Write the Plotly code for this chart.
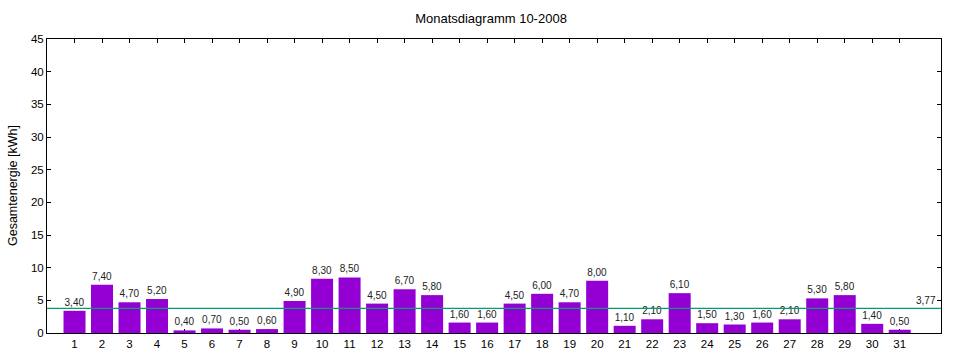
import plotly.graph_objects as go

days = list(range(1, 32))
energy = [3.40, 7.40, 4.70, 5.20, 0.40, 0.70, 0.50, 0.60, 4.90, 8.30,
          8.50, 4.50, 6.70, 5.80, 1.60, 1.60, 4.50, 6.00, 4.70, 8.00,
          1.10, 2.10, 6.10, 1.50, 1.30, 1.60, 2.10, 5.30, 5.80, 1.40, 0.50]
y_ticks = [0, 5, 10, 15, 20, 25, 30, 35, 40, 45]

avg = round(sum(energy) / len(energy), 2)

FONT = "Liberation Sans, Arial, sans-serif"

fig = go.Figure()
fig.add_trace(go.Bar(
    x=days, y=energy, width=0.8,
    marker=dict(color="#9400d3", line=dict(width=0)),
    texttemplate="%{y:.2f}", textposition="outside",
    textfont=dict(size=10, color="#222222", family=FONT),
    cliponaxis=False, showlegend=False, hoverinfo="skip",
))

fig.add_shape(type="line", xref="paper", yref="y", x0=0, x1=1, y0=avg, y1=avg,
              line=dict(color="#009e73", width=1.3))
fig.add_annotation(xref="paper", yref="y", x=0.997, y=avg, text=f"{avg:.2f}".replace(".", ","),
                   showarrow=False, xanchor="right", yanchor="bottom", yshift=0,
                   font=dict(size=10, color="#222222", family=FONT))
fig.add_annotation(xref="paper", yref="paper", x=-34 / 894.8, y=0.5, text="Gesamtenergie [kWh]",
                   textangle=-90, showarrow=False, xanchor="center", yanchor="middle",
                   font=dict(size=12.5, color="#000000", family=FONT))

fig.update_layout(
    width=960, height=360,
    margin=dict(l=46.5, r=18.7, t=39.3, b=26.7, autoexpand=False),
    paper_bgcolor="white", plot_bgcolor="white",
    separators=",.",
    font=dict(family=FONT, size=12, color="#000000"),
    title=dict(text="Monatsdiagramm 10-2008", x=491 / 960, xanchor="center",
               y=1 - 18 / 360, yanchor="middle", font=dict(size=13, family=FONT),
               automargin=False),
    xaxis=dict(range=[0, 32.5], tickvals=days, ticktext=[str(d) for d in days],
               showline=True, linecolor="black", linewidth=1, mirror="ticks",
               ticks="inside", ticklen=4, tickcolor="black", showgrid=False,
               zeroline=False, layer="below traces", tickfont=dict(size=11.5),
               automargin=False),
    yaxis=dict(range=[0, 45], tickvals=y_ticks,
               showline=True, linecolor="black", linewidth=1, mirror="ticks",
               ticks="inside", ticklen=4, tickcolor="black", showgrid=False,
               zeroline=False, tickfont=dict(size=11.5), automargin=False),
    bargap=0.2,
)

fig.write_html("out.html", config={"displayModeBar": False},
               post_script="document.body.style.margin='0';document.body.style.padding='0';")
